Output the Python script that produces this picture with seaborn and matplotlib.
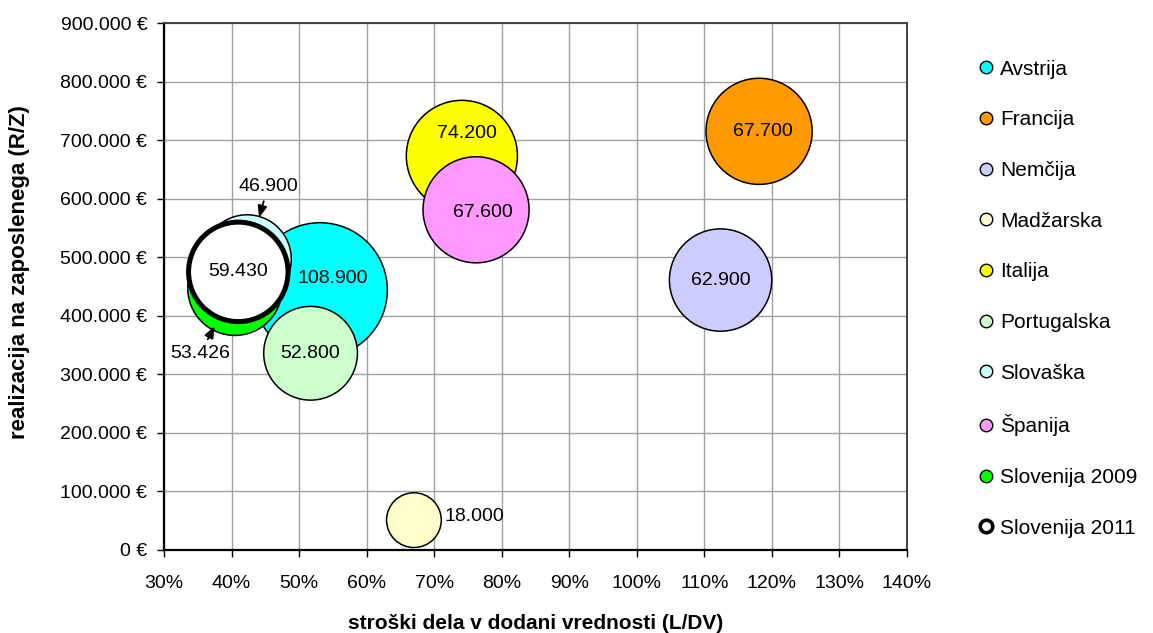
import pandas as pd
import matplotlib.pyplot as plt
import matplotlib.ticker as mticker
from matplotlib.lines import Line2D
import seaborn as sns

# data
countries = ['Avstrija', 'Francija', 'Nemčija', 'Madžarska', 'Italija',
             'Portugalska', 'Slovaška', 'Španija', 'Slovenija 2009', 'Slovenija 2011']
labour_share = [0.531, 1.181, 1.124, 0.670, 0.741, 0.517, 0.423, 0.762, 0.405, 0.410]
revenue_per_employee = [444000, 715000, 461000, 51000, 673000, 336000, 497000, 581000, 447000, 475000]
bubble_value = [108900, 67700, 62900, 18000, 74200, 52800, 46900, 67600, 53426, 59430]
colors = ['#00FFFF', '#FF9900', '#CCCCFF', '#FFFFCC', '#FFFF00',
          '#CCFFCC', '#CCFFFF', '#FF99FF', '#00FF00', '#FFFFFF']

# label offsets in points (some labels were moved in the original)
label_offsets = {'Avstrija': (9, 8), 'Italija': (4, 16.5), 'Španija': (5, -2),
                 'Francija': (3, 0), 'Madžarska': (22, 2.5)}
arrow_labels = {'Slovaška': (15, 52, 31), 'Slovenija 2009': (-25, -47, 31)}


def fmt_thousands(v):
    return f'{v:,.0f}'.replace(',', '.')


def main():
    df = pd.DataFrame({'country': countries, 'ls': labour_share,
                       'rz': revenue_per_employee, 'size': bubble_value})

    sns.set_style('white')
    plt.rcParams['font.family'] = ['Liberation Sans', 'DejaVu Sans']
    plt.rcParams.update({'text.color': 'black', 'axes.labelcolor': 'black',
                         'xtick.color': 'black', 'ytick.color': 'black'})

    fig = plt.figure(figsize=(11.53, 6.33), dpi=100)
    ax = fig.add_axes([164 / 1153, 1 - 550 / 633, 743 / 1153, 527 / 633])

    vmax = max(bubble_value)
    sns.scatterplot(data=df, x='ls', y='rz', hue='country', size='size',
                    palette=dict(zip(countries, colors)),
                    sizes=(0, 86.3 * vmax / 1000), size_norm=(0, vmax),
                    edgecolor='black', linewidth=1.1, alpha=1,
                    legend=False, ax=ax)
    lws = [3.6 if c == 'Slovenija 2011' else 1.1 for c in countries]
    ax.collections[0].set_linewidths(lws)

    # data labels
    for c, x, y, v in zip(countries, labour_share, revenue_per_employee, bubble_value):
        txt = fmt_thousands(v)
        if c in arrow_labels:
            dx, dy, shr = arrow_labels[c]
            ax.annotate(txt, xy=(x, y), xytext=(dx, dy), textcoords='offset points',
                        ha='center', va='center', fontsize=14, zorder=5,
                        arrowprops=dict(arrowstyle='-|>,head_length=0.5,head_width=0.2',
                                        color='black', lw=1.3, shrinkA=2, shrinkB=shr))
        else:
            dx, dy = label_offsets.get(c, (0, 0))
            ax.annotate(txt, xy=(x, y), xytext=(dx, dy), textcoords='offset points',
                        ha='left' if c == 'Madžarska' else 'center', va='center',
                        fontsize=14, zorder=5)

    ax.set_xlim(0.3, 1.4)
    ax.set_ylim(0, 900000)
    ax.xaxis.set_major_locator(mticker.MultipleLocator(0.1))
    ax.yaxis.set_major_locator(mticker.MultipleLocator(100000))
    ax.xaxis.set_major_formatter(mticker.PercentFormatter(1.0, decimals=0))
    ax.yaxis.set_major_formatter(mticker.FuncFormatter(lambda v, p: fmt_thousands(v) + ' €'))
    ax.grid(True, color='#A0A0A0', linewidth=1.0)
    ax.set_axisbelow(True)
    ax.tick_params(axis='both', which='major', labelsize=14, length=5, width=1,
                   direction='out', color='black', pad=7)
    ax.tick_params(axis='x', pad=13)
    ax.tick_params(bottom=True, left=True)
    for side in ['left', 'bottom']:
        ax.spines[side].set_color('black')
        ax.spines[side].set_linewidth(1.6)
    for side in ['top', 'right']:
        ax.spines[side].set_color('#404040')
        ax.spines[side].set_linewidth(1.4)

    ax.set_xlabel('stroški dela v dodani vrednosti (L/DV)', fontsize=15,
                  fontweight='bold', labelpad=16)
    ax.set_ylabel('realizacija na zaposlenega (R/Z)', fontsize=16, fontweight='bold')
    ax.yaxis.set_label_coords(-0.181, 0.527)

    # legend
    handles = [Line2D([], [], marker='o', linestyle='', markersize=9,
                      markerfacecolor=col, markeredgecolor='black',
                      markeredgewidth=2.6 if c == 'Slovenija 2011' else 1.0)
               for c, col in zip(countries, colors)]
    fig.legend(handles, countries, loc='upper left', bbox_to_anchor=(956 / 1153, 1 - 41 / 633),
               frameon=False, fontsize=15, labelspacing=1.52, handletextpad=0.1,
               handlelength=1.1)

    fig.savefig('out.png', dpi=100)


if __name__ == '__main__':
    main()
